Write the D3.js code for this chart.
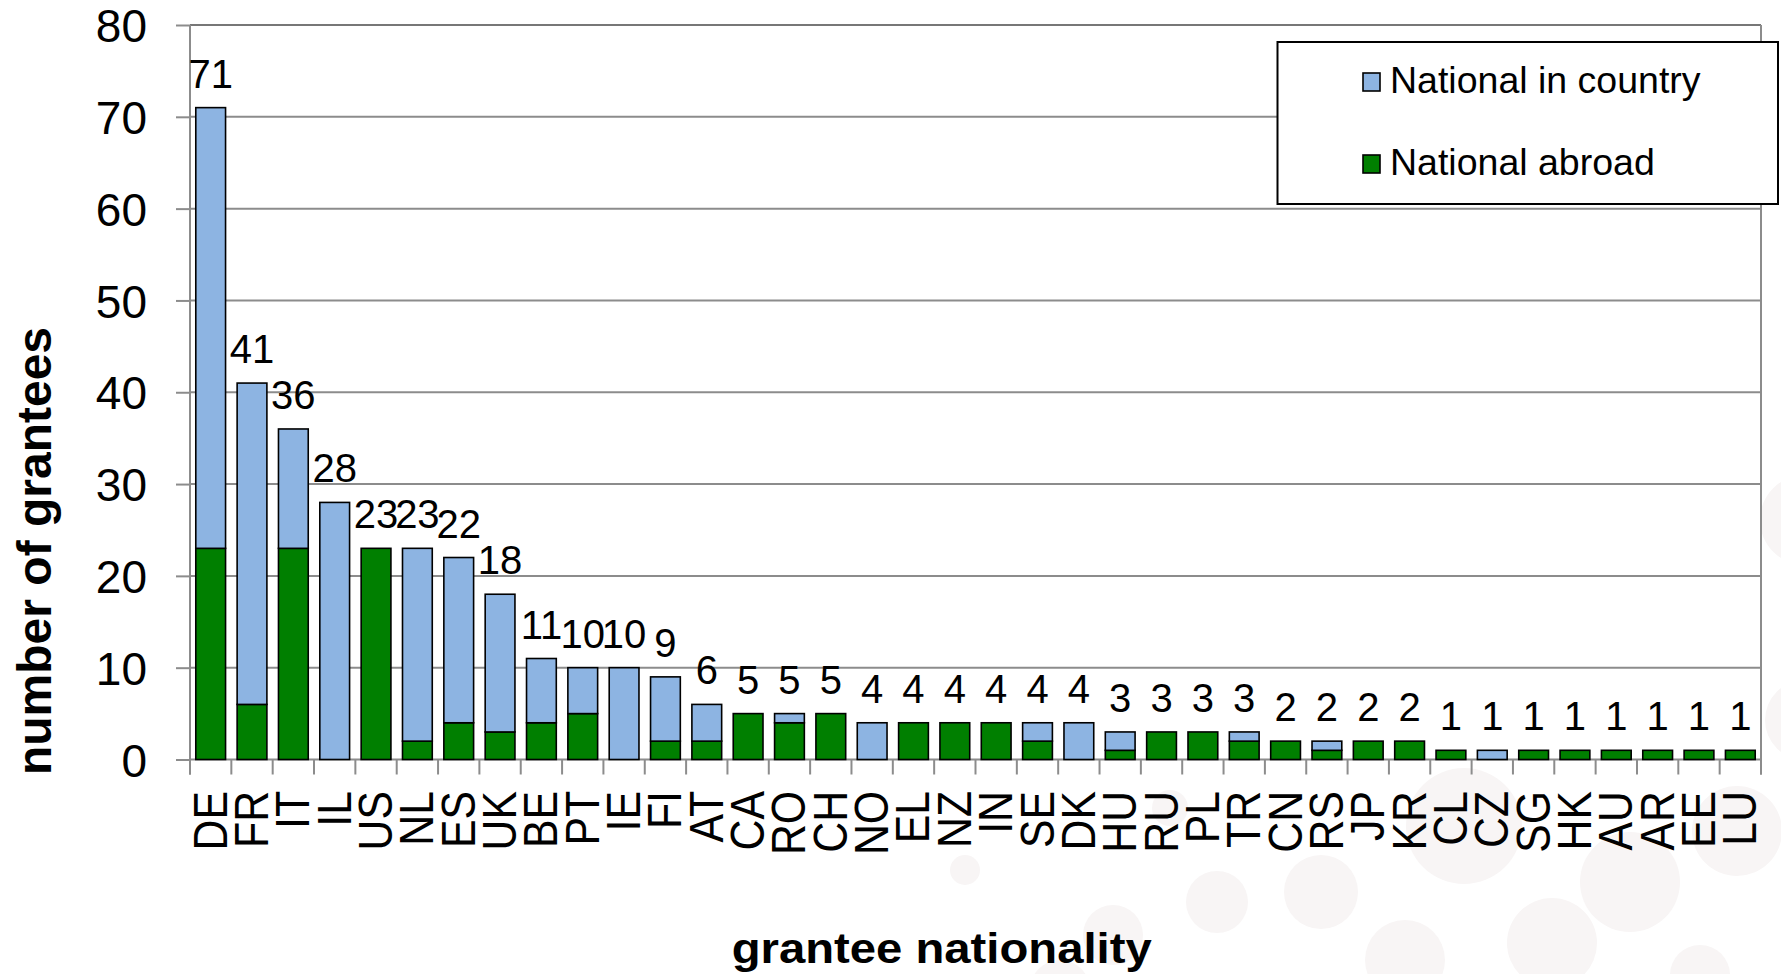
<!DOCTYPE html>
<html>
<head>
<meta charset="utf-8">
<script src="https://cdn.jsdelivr.net/npm/d3@7"></script>
<style>
  html, body { margin: 0; padding: 0; background: #ffffff; }
  svg { display: block; }
  text { font-family: "Liberation Sans", Arial, sans-serif; fill: #000; }
</style>
</head>
<body>
<svg id="chart" width="1781" height="974"></svg>
<script>
// ---- data ----
const categories = ["DE","FR","IT","IL","US","NL","ES","UK","BE","PT","IE","FI","AT","CA","RO","CH","NO","EL","NZ","IN","SE","DK","HU","RU","PL","TR","CN","RS","JP","KR","CL","CZ","SG","HK","AU","AR","EE","LU"];
const totals    = [71,41,36,28,23,23,22,18,11,10,10,9,6,5,5,5,4,4,4,4,4,4,3,3,3,3,2,2,2,2,1,1,1,1,1,1,1,1];
const abroad    = [23,6,23,0,23,2,4,3,4,5,0,2,2,5,4,5,0,4,4,4,2,0,1,3,3,2,2,1,2,2,1,0,1,1,1,1,1,1];
const inCountry = totals.map((t, i) => t - abroad[i]);
const seriesNames = ["National in country", "National abroad"];
const yTicks = [0,10,20,30,40,50,60,70,80];
const xTitle = "grantee nationality";
const yTitle = "number of grantees";

// ---- layout ----
const W = 1781, H = 974;
const plot = { left: 190, right: 1761, top: 25, bottom: 759.5 };
const colorIn = "#8DB4E2", colorAbroad = "#007F00";

const svg = d3.select("#chart");

// background decoration (faint circles)
const deco = [[965,870,15],[1217,902,31],[1321,892,37],[1464,826,58],[1630,882,50],[1737,831,45],[1552,943,45],[1405,960,40],[1113,935,30],[1170,808,18],[1805,520,45],[1805,720,40],[1060,990,30],[1700,975,30]];
svg.append("g").selectAll("circle").data(deco).join("circle")
  .attr("cx", d => d[0]).attr("cy", d => d[1]).attr("r", d => d[2])
  .attr("fill", "#f8f5f5");

const x = d3.scaleBand().domain(categories).range([plot.left, plot.right])
  .paddingInner(0.28).paddingOuter(0.14);
const y = d3.scaleLinear().domain([0, 80]).range([plot.bottom, plot.top]);

// plot area background
svg.append("rect").attr("x", plot.left).attr("y", plot.top)
  .attr("width", plot.right - plot.left).attr("height", plot.bottom - plot.top)
  .attr("fill", "#fff");

// gridlines
svg.append("g").selectAll("line").data(yTicks.filter(v => v > 0)).join("line")
  .attr("x1", plot.left).attr("x2", plot.right)
  .attr("y1", d => y(d)).attr("y2", d => y(d))
  .attr("stroke", d => d === 80 ? "#777" : "#8c8c8c").attr("stroke-width", 2);

// y axis
const yAxis = d3.axisLeft(y).tickValues(yTicks).tickSize(14).tickPadding(0).tickFormat(d3.format("d"));
const gy = svg.append("g").attr("transform", `translate(${plot.left},0)`).call(yAxis);
gy.select(".domain").attr("stroke", "#8c8c8c").attr("stroke-width", 2)
  .attr("d", `M0,${plot.top}V${plot.bottom + 15}`);
gy.selectAll(".tick line").attr("stroke", "#8c8c8c").attr("stroke-width", 2);
gy.selectAll(".tick text").attr("font-size", 46).attr("x", -43).attr("dy", "0.36em")
  .attr("font-family", "'Liberation Sans', Arial, sans-serif").attr("fill", "#000");

// right border
svg.append("line").attr("x1", plot.right).attr("x2", plot.right)
  .attr("y1", plot.top).attr("y2", plot.bottom + 15)
  .attr("stroke", "#8c8c8c").attr("stroke-width", 2);

// x axis (ticks between categories)
const step = x.step();
const boundaries = d3.range(categories.length + 1).map(i => plot.left + i * step);
svg.append("g").selectAll("line").data(boundaries).join("line")
  .attr("x1", d => d).attr("x2", d => d)
  .attr("y1", plot.bottom).attr("y2", plot.bottom + 15)
  .attr("stroke", "#8c8c8c").attr("stroke-width", 2);
svg.append("line").attr("x1", plot.left).attr("x2", plot.right)
  .attr("y1", plot.bottom).attr("y2", plot.bottom)
  .attr("stroke", "#8c8c8c").attr("stroke-width", 2);

// x labels
svg.append("g").selectAll("text").data(categories).join("text")
  .attr("transform", d => `translate(${x(d) + x.bandwidth() / 2 + 16},791) rotate(-90) scale(0.9,1)`)
  .attr("text-anchor", "end")
  .attr("font-size", 47.5)
  .text(d => d);

// stacked bars
const rows = categories.map((c, i) => ({ cat: c, abroad: abroad[i], inCountry: inCountry[i] }));
const stack = d3.stack().keys(["abroad", "inCountry"]);
const layers = stack(rows);
const colors = { abroad: colorAbroad, inCountry: colorIn };
svg.append("g").selectAll("g").data(layers).join("g")
  .attr("fill", d => colors[d.key])
  .selectAll("rect").data(d => d.filter(s => s[1] > s[0])).join("rect")
  .attr("x", d => x(d.data.cat))
  .attr("width", x.bandwidth())
  .attr("y", d => y(d[1]))
  .attr("height", d => y(d[0]) - y(d[1]))
  .attr("stroke", "#000").attr("stroke-width", 1.6);

// total labels
svg.append("g").selectAll("text").data(categories).join("text")
  .attr("x", d => x(d) + x.bandwidth() / 2)
  .attr("y", (d, i) => y(totals[i]) - 20)
  .attr("text-anchor", "middle")
  .attr("font-size", 40)
  .text((d, i) => totals[i]);

// axis titles
svg.append("text")
  .attr("transform", `translate(51,551) rotate(-90)`)
  .attr("text-anchor", "middle").attr("font-size", 48).attr("font-weight", "bold")
  .text(yTitle);
svg.append("text")
  .attr("x", 731.7).attr("y", 963)
  .attr("font-size", 42).attr("font-weight", "bold")
  .attr("textLength", 420).attr("lengthAdjust", "spacingAndGlyphs")
  .text(xTitle);

// legend
const lg = svg.append("g");
lg.append("rect").attr("x", 1277.5).attr("y", 42).attr("width", 500.5).attr("height", 162)
  .attr("fill", "#fff").attr("stroke", "#000").attr("stroke-width", 2);
const legendItems = [
  { name: seriesNames[0], color: colorIn, ty: 93 },
  { name: seriesNames[1], color: colorAbroad, ty: 175 }
];
const li = lg.selectAll("g.item").data(legendItems).join("g").attr("class", "item");
li.append("rect").attr("x", 1363).attr("y", d => d.ty - 20).attr("width", 17).attr("height", 18)
  .attr("fill", d => d.color).attr("stroke", "#000").attr("stroke-width", 1.6);
li.append("text").attr("x", 1390).attr("y", d => d.ty).attr("font-size", 37.5).text(d => d.name);
</script>
</body>
</html>
